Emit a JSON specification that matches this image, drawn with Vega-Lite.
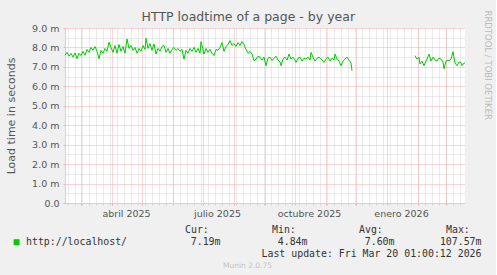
{
  "$schema": "https://vega.github.io/schema/vega-lite/v6.json",
  "background": "#f0f0f0",
  "padding": {"left": 5, "top": 10, "right": 4, "bottom": 12},
  "spacing": 7,
  "title": {"text": "RRDTOOL / TOBI OETIKER", "orient": "right", "anchor": "start", "frame": "bounds", "fontSize": 8.5, "font": "DejaVu Sans", "fontWeight": "normal", "color": "#bcbcbc", "offset": 2},
  "config": {"view": {"stroke": null}, "font": "DejaVu Sans"},
  "datasets": {
    "load": [
      {"date":"2025-02-13","ms":7.6,"seg":1},{"date":"2025-02-15","ms":7.75,"seg":1},{"date":"2025-02-17","ms":7.55,"seg":1},{"date":"2025-02-19","ms":7.7,"seg":1},{"date":"2025-02-21","ms":7.5,"seg":1},{"date":"2025-02-23","ms":7.72,"seg":1},{"date":"2025-02-25","ms":7.42,"seg":1},{"date":"2025-02-27","ms":7.7,"seg":1},
      {"date":"2025-03-01","ms":7.58,"seg":1},{"date":"2025-03-03","ms":7.8,"seg":1},{"date":"2025-03-05","ms":7.6,"seg":1},{"date":"2025-03-07","ms":7.9,"seg":1},{"date":"2025-03-09","ms":7.75,"seg":1},{"date":"2025-03-11","ms":8.0,"seg":1},{"date":"2025-03-13","ms":7.85,"seg":1},{"date":"2025-03-15","ms":8.05,"seg":1},{"date":"2025-03-17","ms":7.8,"seg":1},{"date":"2025-03-19","ms":7.42,"seg":1},{"date":"2025-03-21","ms":7.85,"seg":1},{"date":"2025-03-23","ms":7.7,"seg":1},{"date":"2025-03-25","ms":7.95,"seg":1},{"date":"2025-03-27","ms":7.8,"seg":1},{"date":"2025-03-29","ms":8.27,"seg":1},{"date":"2025-03-31","ms":8.0,"seg":1},
      {"date":"2025-04-02","ms":7.75,"seg":1},{"date":"2025-04-04","ms":8.1,"seg":1},{"date":"2025-04-06","ms":7.7,"seg":1},{"date":"2025-04-08","ms":8.15,"seg":1},{"date":"2025-04-10","ms":7.8,"seg":1},{"date":"2025-04-12","ms":8.05,"seg":1},{"date":"2025-04-14","ms":7.7,"seg":1},{"date":"2025-04-16","ms":8.44,"seg":1},{"date":"2025-04-18","ms":7.95,"seg":1},{"date":"2025-04-20","ms":8.1,"seg":1},{"date":"2025-04-22","ms":7.85,"seg":1},{"date":"2025-04-24","ms":8.0,"seg":1},{"date":"2025-04-26","ms":7.7,"seg":1},{"date":"2025-04-28","ms":7.95,"seg":1},{"date":"2025-04-30","ms":7.8,"seg":1},
      {"date":"2025-05-02","ms":8.1,"seg":1},{"date":"2025-05-04","ms":7.9,"seg":1},{"date":"2025-05-05","ms":8.47,"seg":1},{"date":"2025-05-07","ms":7.95,"seg":1},{"date":"2025-05-09","ms":8.2,"seg":1},{"date":"2025-05-11","ms":7.85,"seg":1},{"date":"2025-05-13","ms":8.18,"seg":1},{"date":"2025-05-15","ms":7.66,"seg":1},{"date":"2025-05-17","ms":7.95,"seg":1},{"date":"2025-05-19","ms":7.8,"seg":1},{"date":"2025-05-21","ms":8.05,"seg":1},{"date":"2025-05-23","ms":8.1,"seg":1},{"date":"2025-05-25","ms":7.75,"seg":1},{"date":"2025-05-27","ms":7.95,"seg":1},{"date":"2025-05-29","ms":7.7,"seg":1},{"date":"2025-05-31","ms":7.9,"seg":1},
      {"date":"2025-06-02","ms":8.0,"seg":1},{"date":"2025-06-04","ms":7.85,"seg":1},{"date":"2025-06-06","ms":7.95,"seg":1},{"date":"2025-06-08","ms":7.8,"seg":1},{"date":"2025-06-10","ms":7.9,"seg":1},{"date":"2025-06-12","ms":7.4,"seg":1},{"date":"2025-06-14","ms":7.85,"seg":1},{"date":"2025-06-16","ms":7.7,"seg":1},{"date":"2025-06-18","ms":7.95,"seg":1},{"date":"2025-06-20","ms":7.8,"seg":1},{"date":"2025-06-22","ms":8.0,"seg":1},{"date":"2025-06-24","ms":7.75,"seg":1},{"date":"2025-06-26","ms":7.95,"seg":1},{"date":"2025-06-28","ms":7.7,"seg":1},{"date":"2025-06-29","ms":8.3,"seg":1},
      {"date":"2025-07-01","ms":7.9,"seg":1},{"date":"2025-07-02","ms":7.66,"seg":1},{"date":"2025-07-04","ms":7.95,"seg":1},{"date":"2025-07-06","ms":7.75,"seg":1},{"date":"2025-07-08","ms":7.9,"seg":1},{"date":"2025-07-10","ms":7.7,"seg":1},{"date":"2025-07-12","ms":7.58,"seg":1},{"date":"2025-07-14","ms":7.9,"seg":1},{"date":"2025-07-16","ms":7.85,"seg":1},{"date":"2025-07-18","ms":8.0,"seg":1},{"date":"2025-07-20","ms":8.25,"seg":1},{"date":"2025-07-22","ms":7.8,"seg":1},{"date":"2025-07-24","ms":8.05,"seg":1},{"date":"2025-07-26","ms":8.15,"seg":1},{"date":"2025-07-28","ms":8.35,"seg":1},{"date":"2025-07-30","ms":8.1,"seg":1},
      {"date":"2025-08-01","ms":8.2,"seg":1},{"date":"2025-08-03","ms":8.05,"seg":1},{"date":"2025-08-05","ms":8.25,"seg":1},{"date":"2025-08-07","ms":8.1,"seg":1},{"date":"2025-08-09","ms":8.3,"seg":1},{"date":"2025-08-11","ms":8.15,"seg":1},{"date":"2025-08-13","ms":7.9,"seg":1},{"date":"2025-08-15","ms":7.7,"seg":1},{"date":"2025-08-17","ms":7.8,"seg":1},{"date":"2025-08-19","ms":7.66,"seg":1},{"date":"2025-08-21","ms":7.32,"seg":1},{"date":"2025-08-23","ms":7.4,"seg":1},{"date":"2025-08-25","ms":7.55,"seg":1},{"date":"2025-08-27","ms":7.5,"seg":1},{"date":"2025-08-29","ms":7.35,"seg":1},{"date":"2025-08-31","ms":7.5,"seg":1},
      {"date":"2025-09-02","ms":7.06,"seg":1},{"date":"2025-09-04","ms":7.45,"seg":1},{"date":"2025-09-06","ms":7.5,"seg":1},{"date":"2025-09-08","ms":7.32,"seg":1},{"date":"2025-09-10","ms":7.45,"seg":1},{"date":"2025-09-12","ms":7.55,"seg":1},{"date":"2025-09-14","ms":7.35,"seg":1},{"date":"2025-09-16","ms":7.25,"seg":1},{"date":"2025-09-17","ms":7.06,"seg":1},{"date":"2025-09-19","ms":7.4,"seg":1},{"date":"2025-09-21","ms":7.5,"seg":1},{"date":"2025-09-23","ms":7.35,"seg":1},{"date":"2025-09-25","ms":7.66,"seg":1},{"date":"2025-09-27","ms":7.4,"seg":1},{"date":"2025-09-29","ms":7.5,"seg":1},
      {"date":"2025-10-01","ms":7.35,"seg":1},{"date":"2025-10-02","ms":7.23,"seg":1},{"date":"2025-10-04","ms":7.45,"seg":1},{"date":"2025-10-06","ms":7.5,"seg":1},{"date":"2025-10-08","ms":7.3,"seg":1},{"date":"2025-10-10","ms":7.45,"seg":1},{"date":"2025-10-12","ms":7.4,"seg":1},{"date":"2025-10-14","ms":7.5,"seg":1},{"date":"2025-10-16","ms":7.35,"seg":1},{"date":"2025-10-17","ms":7.75,"seg":1},{"date":"2025-10-19","ms":7.5,"seg":1},{"date":"2025-10-21","ms":7.3,"seg":1},{"date":"2025-10-23","ms":7.45,"seg":1},{"date":"2025-10-25","ms":7.5,"seg":1},{"date":"2025-10-27","ms":7.4,"seg":1},{"date":"2025-10-29","ms":7.3,"seg":1},{"date":"2025-10-30","ms":7.23,"seg":1},
      {"date":"2025-11-01","ms":7.4,"seg":1},{"date":"2025-11-03","ms":7.5,"seg":1},{"date":"2025-11-05","ms":7.3,"seg":1},{"date":"2025-11-07","ms":7.45,"seg":1},{"date":"2025-11-09","ms":7.35,"seg":1},{"date":"2025-11-10","ms":7.66,"seg":1},{"date":"2025-11-12","ms":7.4,"seg":1},{"date":"2025-11-14","ms":7.3,"seg":1},{"date":"2025-11-16","ms":7.06,"seg":1},{"date":"2025-11-18","ms":7.3,"seg":1},{"date":"2025-11-20","ms":7.4,"seg":1},{"date":"2025-11-22","ms":7.5,"seg":1},{"date":"2025-11-24","ms":7.35,"seg":1},{"date":"2025-11-26","ms":7.2,"seg":1},{"date":"2025-11-27","ms":6.8,"seg":1},
      {"date":"2026-01-29","ms":7.58,"seg":2},{"date":"2026-01-31","ms":7.4,"seg":2},{"date":"2026-02-02","ms":7.5,"seg":2},{"date":"2026-02-03","ms":7.15,"seg":2},{"date":"2026-02-05","ms":7.3,"seg":2},{"date":"2026-02-07","ms":7.06,"seg":2},{"date":"2026-02-09","ms":7.3,"seg":2},{"date":"2026-02-10","ms":7.4,"seg":2},{"date":"2026-02-12","ms":7.66,"seg":2},{"date":"2026-02-14","ms":7.3,"seg":2},{"date":"2026-02-16","ms":7.5,"seg":2},{"date":"2026-02-18","ms":7.35,"seg":2},{"date":"2026-02-20","ms":7.3,"seg":2},{"date":"2026-02-22","ms":7.45,"seg":2},{"date":"2026-02-24","ms":7.4,"seg":2},{"date":"2026-02-26","ms":7.25,"seg":2},{"date":"2026-02-27","ms":6.9,"seg":2},
      {"date":"2026-03-01","ms":7.3,"seg":2},{"date":"2026-03-03","ms":7.35,"seg":2},{"date":"2026-03-04","ms":7.32,"seg":2},{"date":"2026-03-06","ms":7.4,"seg":2},{"date":"2026-03-08","ms":7.78,"seg":2},{"date":"2026-03-10","ms":7.2,"seg":2},{"date":"2026-03-12","ms":7.06,"seg":2},{"date":"2026-03-14","ms":7.25,"seg":2},{"date":"2026-03-16","ms":7.23,"seg":2},{"date":"2026-03-17","ms":7.06,"seg":2},{"date":"2026-03-19","ms":7.2,"seg":2},{"date":"2026-03-20","ms":7.19,"seg":2}
    ],
    "stats": [
      {"kind":"box","col":"series","row":"val","label":"■"},
      {"kind":"series","col":"series","row":"val","label":"http://localhost/"},
      {"kind":"head","col":"Cur","row":"head","label":"Cur:"},
      {"kind":"head","col":"Min","row":"head","label":"Min:"},
      {"kind":"head","col":"Avg","row":"head","label":"Avg:"},
      {"kind":"head","col":"Max","row":"head","label":"Max:"},
      {"kind":"value","col":"Cur","row":"val","label":"7.19m"},
      {"kind":"value","col":"Min","row":"val","label":"4.84m"},
      {"kind":"value","col":"Avg","row":"val","label":"7.60m"},
      {"kind":"value","col":"Max","row":"val","label":"107.57m"},
      {"kind":"value","col":"Max","row":"upd","label":"Last update: Fri Mar 20 01:00:12 2026"}
    ]
  },
  "vconcat": [
    {
      "width": 400,
      "height": 175,
      "title": {"text": "HTTP loadtime of a page - by year", "anchor": "middle", "frame": "bounds", "dx": 12, "fontSize": 12.5, "fontWeight": "normal", "color": "#555555", "font": "DejaVu Sans", "offset": 0},
      "view": {"fill": "#ffffff", "stroke": null},
      "data": {"name": "load"},
      "resolve": {"axis": {"x": "independent", "y": "independent"}},
      "layer": [
        {
          "mark": {"type": "line", "color": "#00cc00", "strokeWidth": 1},
          "encoding": {
            "x": {"field": "date", "type": "temporal",
              "scale": {"type": "utc", "domain": [{"year": 2025, "month": 2, "date": 13, "utc": true}, {"year": 2026, "month": 3, "date": 20, "utc": true}]},
              "axis": {"orient": "bottom", "title": null, "labels": false, "domain": false, "ticks": true, "tickSize": 2, "tickColor": "#d4d4d4", "grid": true, "gridColor": "#d4d4d4", "gridDash": [1, 1], "tickCount": {"interval": "week", "step": 1}}},
            "y": {"field": "ms", "type": "quantitative",
              "scale": {"domain": [0, 9], "nice": false},
              "axis": {"orient": "left", "title": null, "labels": false, "domain": false, "ticks": false, "grid": true, "gridColor": "#d4d4d4", "gridDash": [1, 1], "values": [0.5, 1.5, 2.5, 3.5, 4.5, 5.5, 6.5, 7.5, 8.5]}},
            "detail": {"field": "seg", "type": "nominal"}
          }
        },
        {
          "mark": {"type": "line", "strokeOpacity": 0},
          "encoding": {
            "x": {"field": "date", "type": "temporal",
              "axis": {"orient": "bottom", "title": null, "labels": false, "domain": false, "ticks": true, "tickSize": 2, "tickColor": "#f2acac", "grid": true, "gridColor": "#f2acac", "gridDash": [1, 1], "tickCount": {"interval": "month", "step": 1}}},
            "y": {"field": "ms", "type": "quantitative",
              "axis": {"orient": "left", "title": "Load time in seconds", "titleFontSize": 11, "titleFontWeight": "normal", "titleColor": "#555555", "titlePadding": 15,
                "labels": true, "labelFontSize": 9.5, "labelColor": "#555555", "labelPadding": 4, "labelExpr": "datum.value == 0 ? '0.0' : format(datum.value, '.1f') + ' m'",
                "domain": true, "domainColor": "#ccccff", "ticks": true, "tickSize": 2, "tickColor": "#f2acac",
                "grid": true, "gridColor": "#f2acac", "gridDash": [1, 1], "values": [0, 1, 2, 3, 4, 5, 6, 7, 8, 9]}},
            "detail": {"field": "seg", "type": "nominal"}
          }
        },
        {
          "mark": {"type": "line", "strokeOpacity": 0},
          "encoding": {
            "x": {"field": "date", "type": "temporal",
              "axis": {"orient": "bottom", "title": null, "grid": false, "ticks": false, "domain": true, "domainColor": "#ccccff",
                "labelFontSize": 9.5, "labelColor": "#555555", "labelPadding": 5,
                "values": [{"year": 2025, "month": 4, "date": 15, "utc": true}, {"year": 2025, "month": 7, "date": 15, "utc": true}, {"year": 2025, "month": 10, "date": 15, "utc": true}, {"year": 2026, "month": 1, "date": 15, "utc": true}],
                "labelExpr": "['enero','febrero','marzo','abril','mayo','junio','julio','agosto','septiembre','octubre','noviembre','diciembre'][utcmonth(datum.value)] + ' ' + utcyear(datum.value)"}},
            "y": {"field": "ms", "type": "quantitative", "axis": null},
            "detail": {"field": "seg", "type": "nominal"}
          }
        }
      ]
    },
    {
      "width": 348,
      "height": 24,
      "title": {"text": "Munin 2.0.75", "orient": "bottom", "anchor": "middle", "frame": "bounds", "fontSize": 7.5, "font": "DejaVu Sans", "fontWeight": "normal", "color": "#c4c4c4", "offset": 3},
      "data": {"name": "stats"},
      "encoding": {
        "x": {"field": "col", "type": "nominal", "scale": {"type": "point", "domain": ["series", "Cur", "Min", "Avg", "Max"], "padding": 0}, "axis": null},
        "y": {"field": "row", "type": "nominal", "scale": {"type": "point", "domain": ["head", "val", "upd"], "padding": 0}, "axis": null}
      },
      "layer": [
        {
          "transform": [{"filter": "datum.kind === 'box'"}],
          "mark": {"type": "text", "align": "center", "baseline": "middle", "dx": -48.5, "font": "DejaVu Sans Mono", "fontSize": 9.9, "color": "#00cc00"},
          "encoding": {"text": {"field": "label"}}
        },
        {
          "transform": [{"filter": "datum.kind === 'series'"}],
          "mark": {"type": "text", "align": "left", "baseline": "middle", "dx": -39, "font": "DejaVu Sans Mono", "fontSize": 9.9, "color": "#333333"},
          "encoding": {"text": {"field": "label"}}
        },
        {
          "transform": [{"filter": "datum.kind === 'head'"}],
          "mark": {"type": "text", "align": "left", "baseline": "middle", "dx": 33, "font": "DejaVu Sans Mono", "fontSize": 9.9, "color": "#333333"},
          "encoding": {"text": {"field": "label"}}
        },
        {
          "transform": [{"filter": "datum.kind === 'value'"}],
          "mark": {"type": "text", "align": "right", "baseline": "middle", "dx": 68.5, "font": "DejaVu Sans Mono", "fontSize": 9.9, "color": "#333333"},
          "encoding": {"text": {"field": "label"}}
        }
      ]
    }
  ]
}
